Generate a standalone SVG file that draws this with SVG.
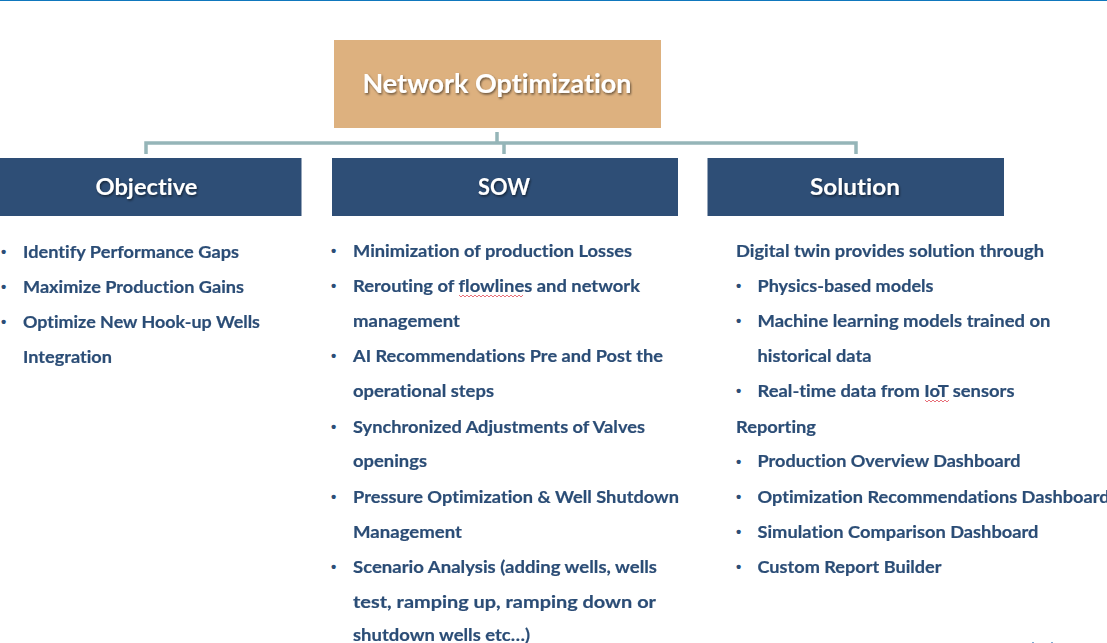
<svg xmlns="http://www.w3.org/2000/svg" width="1107" height="643" viewBox="0 0 1107 643">
<style>
text{font-variant-ligatures:none}
.b{font-family:Lato,"Liberation Sans",sans-serif;font-weight:700;font-size:17.500px;fill:#2c4d76;stroke:#2c4d76;stroke-width:.2;filter:url(#soft)}
.d{font-family:"Liberation Sans",sans-serif;font-weight:700;font-size:15px;fill:#2c4d76}
.h{font-family:Lato,"Liberation Sans",sans-serif;font-weight:700;font-size:23.500px;fill:#fff;text-anchor:middle;filter:url(#ts)}
.c{fill:none;stroke:#95b5b8;stroke-width:3.500}
.w{fill:none;stroke:#e8707a;stroke-width:1}
</style>
<defs>
<filter id="ts" x="-10%" y="-30%" width="120%" height="170%"><feDropShadow dx="1" dy="1.500" stdDeviation="1" flood-color="#000" flood-opacity=".55"/></filter>
<filter id="soft" x="-2%" y="-10%" width="104%" height="120%"><feGaussianBlur stdDeviation=".3"/></filter>
</defs>
<rect width="1107" height="643" fill="#fff"/>
<rect x="0" y="0" width="1107" height="1" fill="#0f77bd"/>
<rect x="1032" y="642" width="2" height="1" fill="#7fa8d0"/>
<rect x="1051" y="642" width="2" height="1" fill="#7fa8d0"/>
<g id="connectors">
<path class="c" d="M146 154V143H856V154M497 132V143M504 143V154"/>
</g>
<g id="node-network-optimization">
<rect x="334" y="40" width="327" height="88" fill="#ddb17f"/>
<text class="h" x="497" y="93" style="font-size:27.500px" textLength="269" lengthAdjust="spacingAndGlyphs">Network Optimization</text>
</g>
<g id="node-objective">
<rect x="0" y="158" width="301.500" height="58" fill="#2e4e76"/>
<text class="h" x="146.500" y="195" textLength="102" lengthAdjust="spacingAndGlyphs">Objective</text>
</g>
<g id="node-sow">
<rect x="332" y="158" width="346" height="58" fill="#2e4e76"/>
<text class="h" x="504" y="195" textLength="52" lengthAdjust="spacingAndGlyphs">SOW</text>
</g>
<g id="node-solution">
<rect x="707.500" y="158" width="296.500" height="58" fill="#2e4e76"/>
<text class="h" x="855" y="195" textLength="90" lengthAdjust="spacingAndGlyphs">Solution</text>
</g>
<g id="list-objective">
<text class="d" x="1" y="257">•</text>
<text class="b" x="23" y="258" textLength="216" lengthAdjust="spacingAndGlyphs">Identify Performance Gaps</text>
<text class="d" x="1" y="292">•</text>
<text class="b" x="23" y="293" textLength="221" lengthAdjust="spacingAndGlyphs">Maximize Production Gains</text>
<text class="d" x="1" y="327">•</text>
<text class="b" x="23" y="328" textLength="237" lengthAdjust="spacingAndGlyphs">Optimize New Hook-up Wells</text>
<text class="b" x="23" y="363" textLength="89" lengthAdjust="spacingAndGlyphs">Integration</text>
</g>
<g id="list-sow">
<text class="d" x="331" y="256">•</text>
<text class="b" x="353" y="257" textLength="279" lengthAdjust="spacingAndGlyphs">Minimization of production Losses</text>
<text class="d" x="331" y="291">•</text>
<text class="b" x="353" y="292" textLength="287" lengthAdjust="spacingAndGlyphs">Rerouting of flowlines and network</text>
<path class="w" d="M459 295l2 2 2-2 2 2 2-2 2 2 2-2 2 2 2-2 2 2 2-2 2 2 2-2 2 2 2-2 2 2 2-2 2 2 2-2 2 2 2-2 2 2 2-2 2 2 2-2 2 2 2-2 2 2 2-2 2 2 2-2 2 2 2-2"/>
<text class="b" x="353" y="327" textLength="107" lengthAdjust="spacingAndGlyphs">management</text>
<text class="d" x="331" y="361">•</text>
<text class="b" x="353" y="362" textLength="310" lengthAdjust="spacingAndGlyphs">AI Recommendations Pre and Post the</text>
<text class="b" x="353" y="397" textLength="141" lengthAdjust="spacingAndGlyphs">operational steps</text>
<text class="d" x="331" y="432">•</text>
<text class="b" x="353" y="433" textLength="292" lengthAdjust="spacingAndGlyphs">Synchronized Adjustments of Valves</text>
<text class="b" x="353" y="467" textLength="74" lengthAdjust="spacingAndGlyphs">openings</text>
<text class="d" x="331" y="502">•</text>
<text class="b" x="353" y="503" textLength="326" lengthAdjust="spacingAndGlyphs">Pressure Optimization &amp; Well Shutdown</text>
<text class="b" x="353" y="538" textLength="109" lengthAdjust="spacingAndGlyphs">Management</text>
<text class="d" x="331" y="572">•</text>
<text class="b" x="353" y="573" textLength="304" lengthAdjust="spacingAndGlyphs">Scenario Analysis (adding wells, wells</text>
<text class="b" x="353" y="608" textLength="303" lengthAdjust="spacingAndGlyphs">test, ramping up, ramping down or</text>
<text class="b" x="353" y="641" textLength="177" lengthAdjust="spacingAndGlyphs">shutdown wells etc…)</text>
</g>
<g id="list-solution">
<text class="b" x="736" y="257" textLength="308" lengthAdjust="spacingAndGlyphs">Digital twin provides solution through</text>
<text class="d" x="736" y="291">•</text>
<text class="b" x="757.500" y="292" textLength="176" lengthAdjust="spacingAndGlyphs">Physics-based models</text>
<text class="d" x="736" y="326">•</text>
<text class="b" x="757.500" y="327" textLength="293" lengthAdjust="spacingAndGlyphs">Machine learning models trained on</text>
<text class="b" x="757.500" y="362" textLength="114" lengthAdjust="spacingAndGlyphs">historical data</text>
<text class="d" x="736" y="396">•</text>
<text class="b" x="757.500" y="397" textLength="257" lengthAdjust="spacingAndGlyphs">Real-time data from IoT sensors</text>
<path class="w" d="M925 400l2 2 2-2 2 2 2-2 2 2 2-2 2 2 2-2 2 2 2-2 2 2 2-2"/>
<text class="b" x="736" y="433" textLength="80" lengthAdjust="spacingAndGlyphs">Reporting</text>
<text class="d" x="736" y="467">•</text>
<text class="b" x="757.500" y="467" textLength="263" lengthAdjust="spacingAndGlyphs">Production Overview Dashboard</text>
<text class="d" x="736" y="502">•</text>
<text class="b" x="757.500" y="503" textLength="352" lengthAdjust="spacingAndGlyphs">Optimization Recommendations Dashboard</text>
<text class="d" x="736" y="537">•</text>
<text class="b" x="757.500" y="538" textLength="281" lengthAdjust="spacingAndGlyphs">Simulation Comparison Dashboard</text>
<text class="d" x="736" y="572">•</text>
<text class="b" x="757.500" y="573" textLength="184" lengthAdjust="spacingAndGlyphs">Custom Report Builder</text>
</g>
</svg>
